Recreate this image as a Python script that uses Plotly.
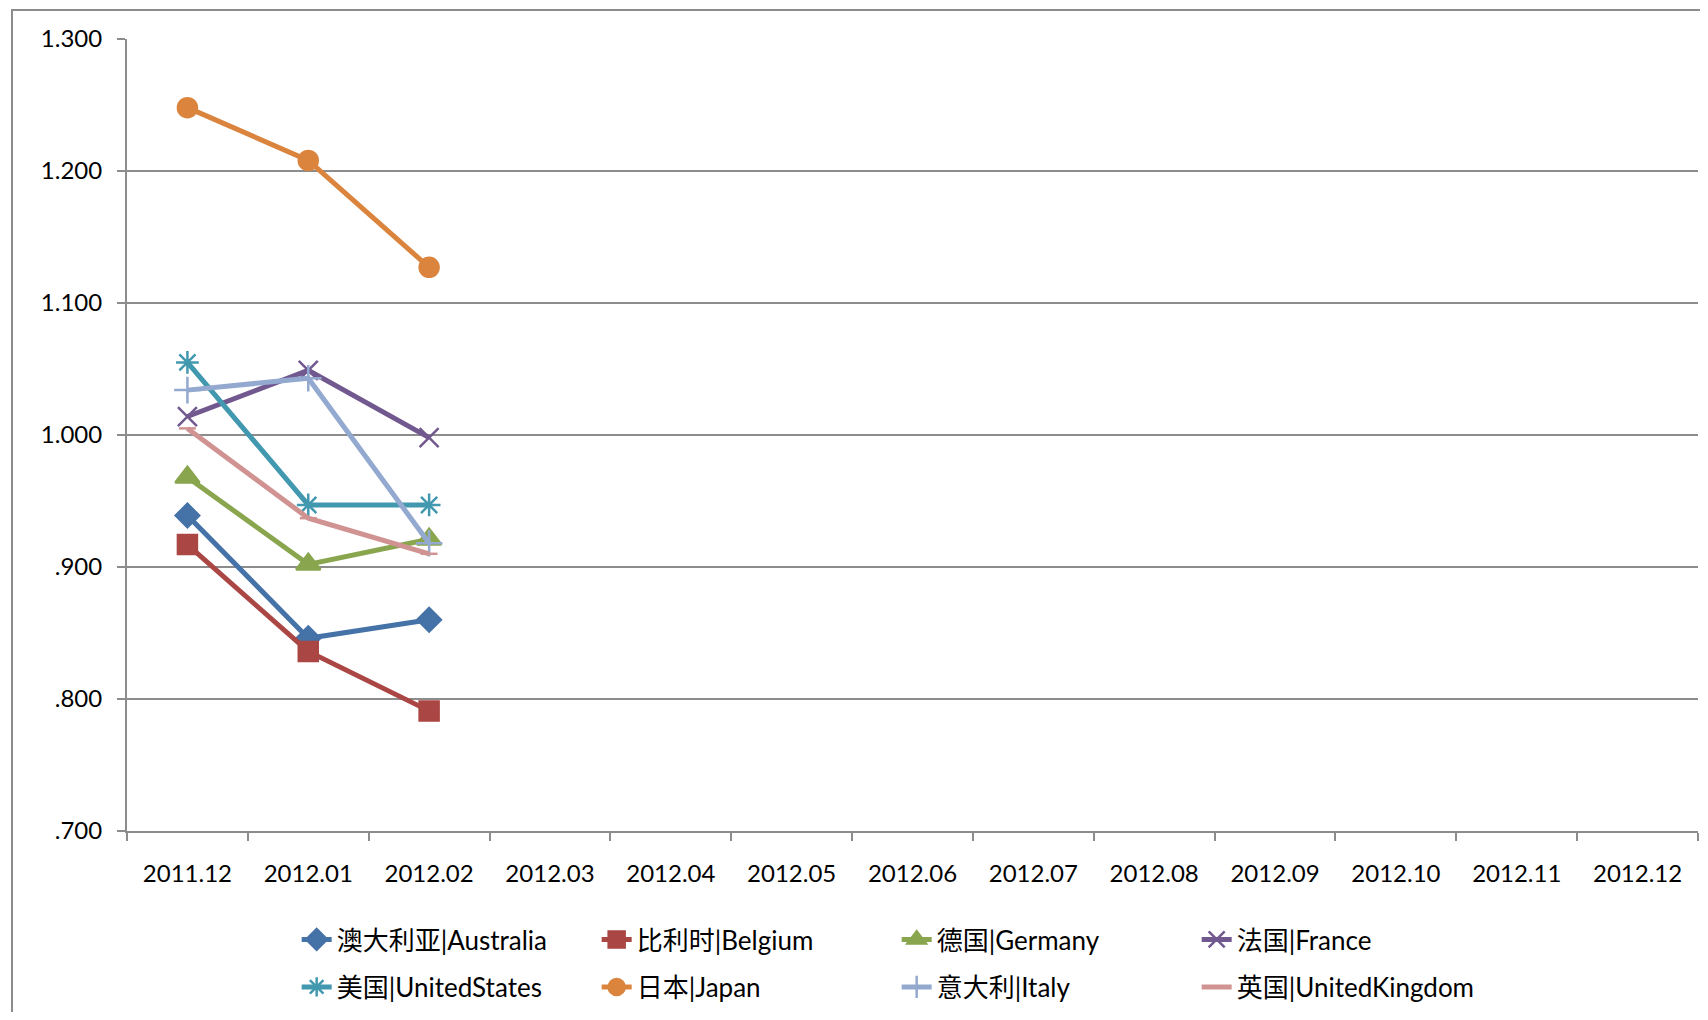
import plotly.graph_objects as go

months = ['2011.12', '2012.01', '2012.02', '2012.03', '2012.04', '2012.05', '2012.06',
          '2012.07', '2012.08', '2012.09', '2012.10', '2012.11', '2012.12']

australia = [0.939, 0.846, 0.860]
belgium = [0.917, 0.836, 0.791]
germany = [0.968, 0.902, 0.921]
france = [1.014, 1.049, 0.998]
united_states = [1.055, 0.947, 0.947]
japan = [1.248, 1.208, 1.127]
italy = [1.034, 1.043, 0.918]
united_kingdom = [1.005, 0.937, 0.910]

y_tickvals = [0.7, 0.8, 0.9, 1.0, 1.1, 1.2, 1.3]
y_ticktext = ['.700', '.800', '.900', '1.000', '1.100', '1.200', '1.300']

GRID = '#8c8c8c'
FONT = 'Lato, Noto Sans CJK SC, sans-serif'

series = [
    ('澳大利亚|Australia', australia, '#4572A7', 'diamond', 18, 'legend'),
    ('比利时|Belgium', belgium, '#AA4643', 'square', 19, 'legend'),
    ('德国|Germany', germany, '#89A54E', 'triangle-up', 21, 'legend'),
    ('法国|France', france, '#71588F', 'x-thin-open', 19, 'legend'),
    ('美国|UnitedStates', united_states, '#4198AF', 'asterisk-open', 19, 'legend2'),
    ('日本|Japan', japan, '#DB843D', 'circle', 19, 'legend2'),
    ('意大利|Italy', italy, '#93A9CF', 'cross-thin-open', 19, 'legend2'),
    ('英国|UnitedKingdom', united_kingdom, '#D09392', 'line-ew-open', 12, 'legend2'),
]

fig = go.Figure()
for name, vals, color, symbol, size, leg in series:
    fig.add_trace(go.Scatter(
        x=months[:len(vals)], y=vals, mode='lines+markers', name=name, legend=leg,
        line=dict(color=color, width=5),
        marker=dict(symbol=symbol, size=size, color=color, line=dict(color=color, width=2.5)),
    ))

# page body has an 8px margin, so the figure is a bit smaller than the window
legend_style = dict(orientation='h', xanchor='left', yanchor='middle', entrywidth=255,
                    entrywidthmode='pixels', font=dict(family=FONT, size=26, color='black'),
                    bgcolor='rgba(0,0,0,0)')

fig.update_layout(
    width=1692, height=1004,
    margin=dict(l=119, r=2, t=31, b=181),
    paper_bgcolor='white', plot_bgcolor='white',
    font=dict(family=FONT, color='black'),
    legend=dict(x=0.108, y=-0.137, **legend_style),
    legend2=dict(x=0.108, y=-0.197, **legend_style),
    xaxis=dict(
        type='category', categoryorder='array', categoryarray=months,
        range=[-0.5, len(months) - 0.5],
        showline=True, linecolor=GRID, linewidth=2,
        ticks='outside', tickson='boundaries', ticklen=8, tickcolor=GRID, tickwidth=1.5,
        showgrid=False, tickfont=dict(size=24), ticklabelstandoff=20,
    ),
    yaxis=dict(
        range=[0.7, 1.3], tickvals=y_tickvals, ticktext=y_ticktext,
        showline=True, linecolor=GRID, linewidth=2,
        ticks='outside', ticklen=8, tickcolor=GRID, tickwidth=1.5,
        showgrid=True, gridcolor=GRID, gridwidth=1.5, zeroline=False,
        tickfont=dict(size=24), ticklabelstandoff=10,
    ),
    shapes=[dict(type='rect', xref='paper', yref='paper', x0=-0.0732, y0=-0.5, x1=1.2, y1=1.0366,
                 line=dict(color=GRID, width=2), fillcolor='rgba(0,0,0,0)')],
)

fig.write_html('out.html')
